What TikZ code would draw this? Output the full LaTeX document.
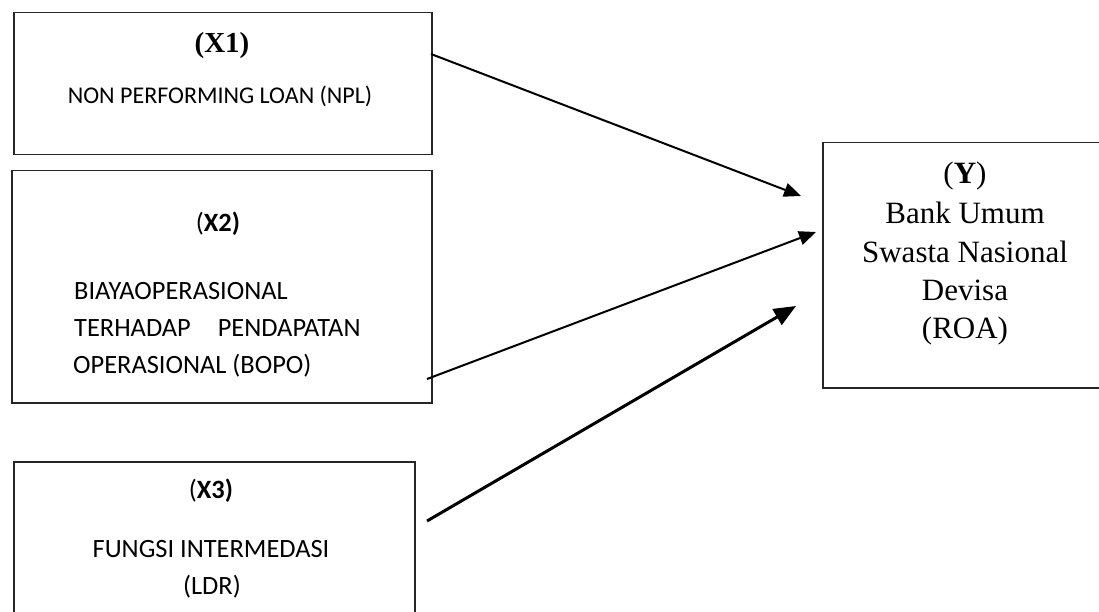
\documentclass[tikz,border=0pt]{standalone}
\usepackage{fontspec}
\setmainfont{Liberation Serif}
\newfontfamily\carl{Carlito}
\usetikzlibrary{arrows.meta}
\begin{document}
\begin{tikzpicture}[x=1pt,y=-1pt,
  boxst/.style={draw=black!85, line width=1.5pt, rectangle, inner sep=0pt, anchor=north west},
  lbl/.style={inner sep=0pt, anchor=base},
  sanslbl/.style={lbl, font=\carl\fontsize{26.4}{32}\selectfont},
  seriflbl/.style={lbl, font=\fontsize{31}{38}\selectfont},
  conn/.style={line width=2pt, -{Triangle[length=17pt,width=14pt]}},
  thickconn/.style={line width=3pt, -{Triangle[length=22pt,width=18pt]}}]
\useasboundingbox (0,0) rectangle (1099,612);
\begin{scope}
\clip (0,0) rectangle (1099,612);
% boxes
\node[boxst, minimum width=418pt, minimum height=142pt] (x1) at (13,12) {};
\node[boxst, minimum width=420pt, minimum height=232pt] (x2) at (11,170) {};
\node[boxst, minimum width=401pt, minimum height=190pt] (x3) at (13,461) {};
\node[boxst, minimum width=290pt, minimum height=245pt] (y) at (822,142) {};
\end{scope}
% X1 texts
\node[lbl, font=\bfseries\fontsize{29}{34}\selectfont] (x1t) at (222,53) {(X1)};
\node[lbl, font=\carl\fontsize{24}{30}\selectfont] (x1d) at (220,104) {NON PERFORMING LOAN (NPL)};
% X2 texts
\node[sanslbl] (x2t) at (218,232) {(\textbf{X2)}};
\node[sanslbl, anchor=base west] (x2a) at (74,299) {BIAYAOPERASIONAL};
\node[sanslbl, anchor=base west] (x2b) at (74,336) {TERHADAP\hskip 27pt PENDAPATAN};
\node[sanslbl, anchor=base west] (x2c) at (73,373) {OPERASIONAL (BOPO)};
% X3 texts
\node[sanslbl] (x3t) at (211,498) {(\textbf{X3)}};
\node[sanslbl] (x3a) at (211,557) {FUNGSI INTERMEDASI};
\node[sanslbl] (x3b) at (212,594) {(LDR)};
% Y texts
\node[seriflbl] (yt) at (965,184) {(\textbf{Y})};
\node[seriflbl] (ya) at (965,224) {Bank Umum};
\node[seriflbl] (yb) at (965,262) {Swasta Nasional};
\node[seriflbl] (yc) at (965,300) {Devisa};
\node[seriflbl] (yd) at (965,338) {(ROA)};
% connectors
\coordinate (s1) at (431,54);
\coordinate (t1) at (801,196);
\coordinate (s2) at (427,379);
\coordinate (t2) at (816,232);
\coordinate (s3) at (427,521);
\coordinate (t3) at (796,306);
\draw[conn] (s1) -- (t1);
\draw[conn] (s2) -- (t2);
\draw[thickconn] (s3) -- (t3);
\end{tikzpicture}
\end{document}
